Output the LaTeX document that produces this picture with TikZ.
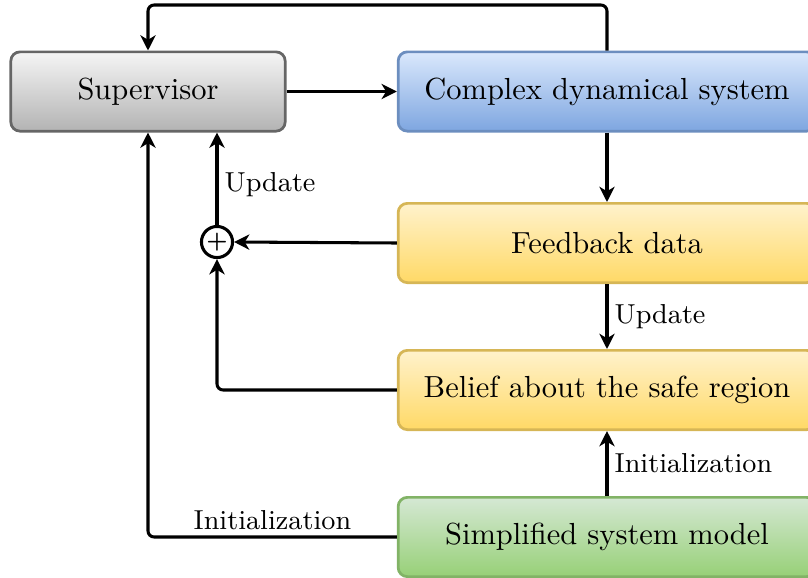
\documentclass[tikz,border=0pt]{standalone}
\usetikzlibrary{arrows.meta,calc}
\definecolor{supfill1}{HTML}{F5F5F5}
\definecolor{supfill2}{HTML}{B3B3B3}
\definecolor{supline}{HTML}{666666}
\definecolor{sysfill1}{HTML}{DAE8FC}
\definecolor{sysfill2}{HTML}{7EA6E0}
\definecolor{sysline}{HTML}{6C8EBF}
\definecolor{datfill1}{HTML}{FFF2CC}
\definecolor{datfill2}{HTML}{FFD966}
\definecolor{datline}{HTML}{D6B656}
\definecolor{modfill1}{HTML}{D5E8D4}
\definecolor{modfill2}{HTML}{97D077}
\definecolor{modline}{HTML}{82B366}
\tikzset{
	blk/.style={line width=0.9pt, rounded corners=3pt, minimum height=26pt, inner sep=0pt},
	supblk/.style={blk, draw=supline, top color=supfill1, bottom color=supfill2, minimum width=90pt},
	sysblk/.style={blk, draw=sysline, top color=sysfill1, bottom color=sysfill2, minimum width=137pt},
	datblk/.style={blk, draw=datline, top color=datfill1, bottom color=datfill2, minimum width=137pt},
	modblk/.style={blk, draw=modline, top color=modfill1, bottom color=modfill2, minimum width=137pt},
	sumnode/.style={circle, draw, line width=1pt, fill=white, minimum size=10.2pt, inner sep=0pt, font=\fontsize{7}{7}\selectfont\boldmath},
	arr/.style={line width=1pt, rounded corners=2pt, -{Stealth[length=5pt,width=5pt,inset=1.5pt]}},
	lbl/.style={font=\small, inner sep=2pt}
}
\begin{document}
\begin{tikzpicture}[x=0.328pt,y=-0.328pt]
\useasboundingbox (0,0) rectangle (808,578);
\node[supblk](sup) at (148,91.5){Supervisor};
\node[sysblk](cds) at (607,91.5){Complex dynamical system};
\node[datblk](fbd) at (607,243){Feedback data};
\node[datblk](bel) at (607,390){Belief about the safe region};
\node[modblk](ssm) at (607,537){Simplified system model};
\node[sumnode](sum) at (217,242){$+$};
\coordinate(top) at (148,5);

\draw[arr](sup.east)to(cds.west);
\draw[arr](cds.north)|-(top)--(sup.north);
\draw[arr](cds.south)to(fbd.north);
\draw[arr](fbd.west)to(sum.east);
\draw[arr](sum.north)--(sum.north|-sup.south)node[lbl, right, pos=0.44]{Update};
\draw[arr](fbd.south)--(bel.north)node[lbl, right, pos=0.5]{Update};
\draw[arr](bel.west)-|(sum.south);
\draw[arr](ssm.north)--(bel.south)node[lbl, right, pos=0.5]{Initialization};
\draw[arr](ssm.west)-|(sup.south)node[lbl, above, pos=0.25]{Initialization};
\end{tikzpicture}
\end{document}
